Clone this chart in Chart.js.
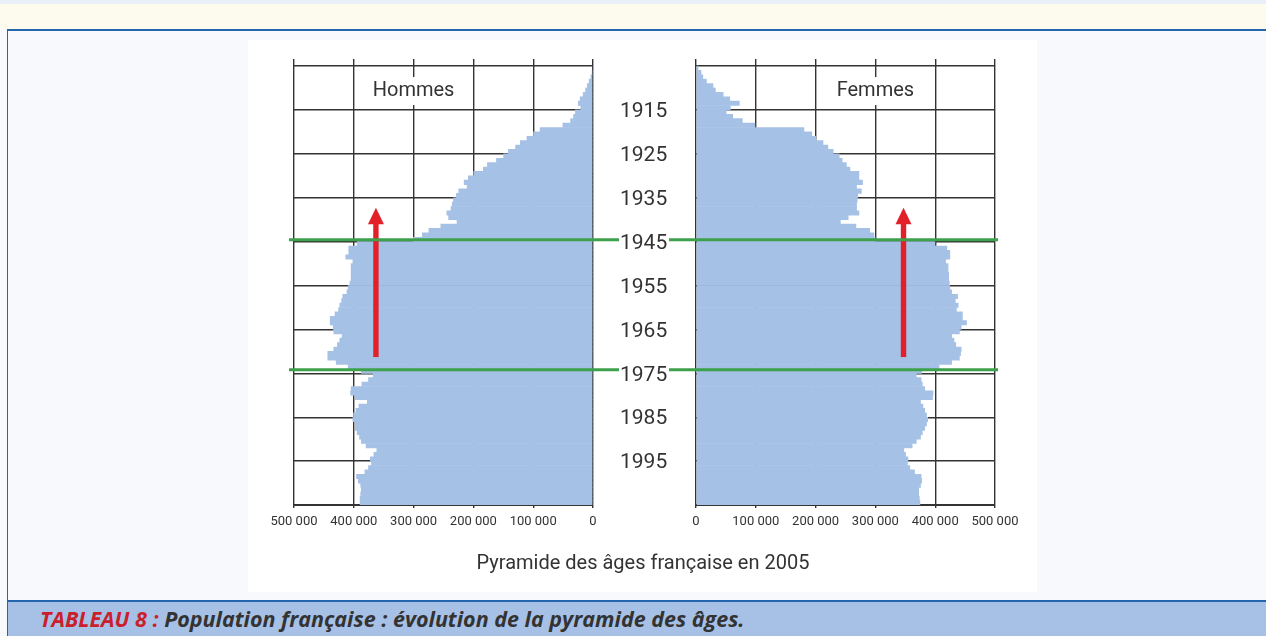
<!DOCTYPE html>
<html lang="fr">
<head>
<meta charset="utf-8">
<title>Pyramide des âges française en 2005</title>
<script src="https://cdn.jsdelivr.net/npm/chart.js@4.4.1/dist/chart.umd.min.js"></script>
<style>
  html, body { margin: 0; padding: 0; }
  body { width: 1266px; height: 636px; position: relative; overflow: hidden; background: #f7f9fd; font-family: Roboto, "Noto Sans", sans-serif; }
  #topband { position: absolute; left: 0; top: 0; width: 1266px; height: 4px; background: #eaf0f9; }
  #cream { position: absolute; left: 0; top: 4px; width: 1266px; height: 25px; background: #fdfaee; }
  #panel { position: absolute; left: 7px; top: 29px; width: 1259px; height: 571px; border-top: 2px solid #2366ad; border-left: 1px solid #2366ad; box-sizing: border-box; background: #f7f9fd; }
  #plot { position: absolute; left: 248px; top: 40px; width: 789px; height: 552px; background: #fff; }
  #men { position: absolute; left: 0; top: 0; }
  #women { position: absolute; left: 395px; top: 0; }
  #title { position: absolute; left: 248px; top: 548px; width: 790px; text-align: center; font-size: 20px; line-height: 28px; color: #333; }
  #caption { position: absolute; left: 7px; top: 600px; width: 1259px; height: 36px; border-top: 2px solid #2366ad; border-left: 1px solid #2366ad; box-sizing: border-box; background: #a7c1e6; font-family: "Open Sans", Roboto, sans-serif; font-style: italic; font-weight: bold; font-size: 21.5px; color: #333; padding-left: 32px; line-height: 34px; }
  #caption span { color: #c9202b; }
</style>
</head>
<body>
<div id="topband"></div>
<div id="cream"></div>
<div id="panel"></div>
<div id="plot">
  <canvas id="men" width="448" height="552"></canvas>
  <canvas id="women" width="394" height="552"></canvas>
</div>
<div id="title">Pyramide des âges française en 2005</div>
<div id="caption"><span>TABLEAU 8 :</span> Population française : évolution de la pyramide des âges.</div>

<script>
// one row per birth year, oldest at the top
const birthYears = Array.from({ length: 100 }, (_, i) => 1905 + i);

// population in thousands
const menK = [
    1, 2, 4, 7, 10, 13, 17, 22, 25, 21,
    30, 33, 38, 51, 89, 100, 111, 122, 130, 142,
    150, 162, 177, 184, 200, 209, 216, 211, 225, 229,
    234, 236, 238, 245, 242, 228, 255, 275, 286, 301,
    395, 409, 409, 414, 402, 405, 405, 405, 405, 407,
    410, 412, 419, 421, 424, 426, 432, 440, 440, 435,
    434, 420, 424, 428, 434, 444, 444, 430, 410, 388,
    368, 376, 387, 405, 406, 398, 378, 392, 397, 401,
    402, 398, 398, 395, 391, 388, 380, 362, 367, 373,
    371, 376, 382, 396, 393, 389, 388, 389, 390, 390
];
const womenK = [
    4, 9, 12, 18, 29, 33, 46, 57, 73, 58,
    51, 62, 78, 99, 181, 194, 201, 213, 221, 230,
    240, 245, 252, 258, 273, 273, 279, 269, 277, 271,
    270, 269, 269, 273, 255, 242, 268, 291, 298, 300,
    400, 420, 425, 425, 418, 422, 422, 423, 423, 424,
    425, 428, 438, 434, 439, 436, 446, 446, 453, 444,
    441, 428, 432, 435, 444, 443, 441, 428, 407, 378,
    369, 377, 379, 383, 397, 396, 376, 380, 383, 386,
    388, 386, 383, 379, 376, 369, 362, 348, 351, 355,
    354, 358, 366, 377, 378, 376, 373, 373, 374, 375
];

const gridYears = [1905, 1915, 1925, 1935, 1945, 1955, 1965, 1975, 1985, 1995, 2005];
const labelYears = [1915, 1925, 1935, 1945, 1955, 1965, 1975, 1985, 1995];
const xTicks = [0, 100000, 200000, 300000, 400000, 500000];

// green markers and red arrows
const markerYears = [1944.6, 1974.2];
const arrowFrom = 1971.3;
const arrowTo = 1937.3;
const arrowMen = 363000;
const arrowWomen = 347000;

const barBlue = "#a6c1e6";
const gridColor = "#333";
const green = "#3da04b";
const arrowRed = "#e3202a";

function fmt(v) {
    return v === 0 ? "0" : (v / 1000) + " 000";
}

function overlay(isMen) {
    return {
        id: "overlay",
        afterDraw(chart) {
            const { ctx, chartArea, scales: { x, y } } = chart;
            ctx.save();

            // red arrow
            const ax = x.getPixelForValue(isMen ? arrowMen : arrowWomen);
            const yTip = y.getPixelForValue(arrowTo);
            const yBase = y.getPixelForValue(arrowFrom);
            ctx.fillStyle = arrowRed;
            ctx.fillRect(ax - 2.7, yTip + 15, 5.4, yBase - yTip - 15);
            ctx.beginPath();
            ctx.moveTo(ax, yTip);
            ctx.lineTo(ax + 8, yTip + 16.5);
            ctx.lineTo(ax - 8, yTip + 16.5);
            ctx.closePath();
            ctx.fill();

            // panel name on a white box
            const text = isMen ? "Hommes" : "Femmes";
            const lx = x.getPixelForValue(300000);
            const ly = y.getPixelForValue(1910.7);
            ctx.font = "20px Roboto";
            const tw = ctx.measureText(text).width;
            ctx.fillStyle = "#fff";
            ctx.fillRect(lx - tw / 2 - 4, ly - 14, tw + 8, 28);
            ctx.fillStyle = "#333";
            ctx.textAlign = "center";
            ctx.textBaseline = "middle";
            ctx.fillText(text, lx, ly);

            // green lines, broken around the year labels
            ctx.strokeStyle = green;
            ctx.lineWidth = 3;
            markerYears.forEach((yr) => {
                const py = y.getPixelForValue(yr);
                const x0 = isMen ? chartArea.left - 5 : chartArea.left - 27;
                const x1 = isMen ? y.left + 26 : chartArea.right + 3;
                ctx.beginPath();
                ctx.moveTo(x0, py);
                ctx.lineTo(x1, py);
                ctx.stroke();
            });
            ctx.restore();
        }
    };
}

function pyramid(canvasId, values, isMen) {
    return new Chart(document.getElementById(canvasId), {
        type: "bar",
        data: {
            datasets: [{
                data: birthYears.map((yr, i) => ({ x: values[i] * 1000, y: yr + 0.5 })),
                backgroundColor: barBlue,
                borderWidth: 0,
                barPercentage: 1.15,
                categoryPercentage: 1
            }]
        },
        options: {
            indexAxis: "y",
            responsive: false,
            animation: false,
            layout: {
                padding: isMen
                    ? { left: 46, top: 19, right: 0, bottom: 0 }
                    : { left: 53, top: 19, right: 42, bottom: 0 }
            },
            plugins: {
                legend: { display: false },
                tooltip: { enabled: false }
            },
            scales: {
                x: {
                    type: "linear",
                    min: 0,
                    max: 500000,
                    reverse: isMen,
                    z: 1,
                    afterBuildTicks: (s) => { s.ticks = xTicks.map((v) => ({ value: v })); },
                    afterFit: (s) => { s.height = 87; },
                    grid: { color: gridColor, lineWidth: 1.4, tickLength: 3 },
                    border: { color: gridColor, width: 2 },
                    ticks: {
                        padding: 6,
                        color: "#333",
                        font: { family: "Roboto", size: 13 },
                        maxRotation: 0,
                        autoSkip: false,
                        callback: fmt
                    }
                },
                y: {
                    type: "linear",
                    min: 1903.4,
                    max: 2005,
                    reverse: true,
                    offset: false,
                    position: isMen ? "right" : "left",
                    z: 1,
                    afterBuildTicks: (s) => { s.ticks = gridYears.map((v) => ({ value: v })); },
                    afterFit: (s) => {
                        s.width = isMen ? 103 : 0;
                        // the year labels must not push the plot area down
                        s.paddingTop = 0;
                        s.paddingBottom = 0;
                    },
                    grid: { color: gridColor, lineWidth: 1.4, drawTicks: false, offset: false },
                    border: { display: false },
                    ticks: {
                        display: isMen,
                        crossAlign: "center",
                        padding: 27,
                        labelOffset: 2,
                        color: "#333",
                        font: { family: "Roboto", size: 21 },
                        autoSkip: false,
                        callback: (v) => labelYears.includes(v) ? String(v) : ""
                    }
                }
            }
        },
        plugins: [overlay(isMen)]
    });
}

pyramid("men", menK, true);
pyramid("women", womenK, false);
</script>
</body>
</html>
